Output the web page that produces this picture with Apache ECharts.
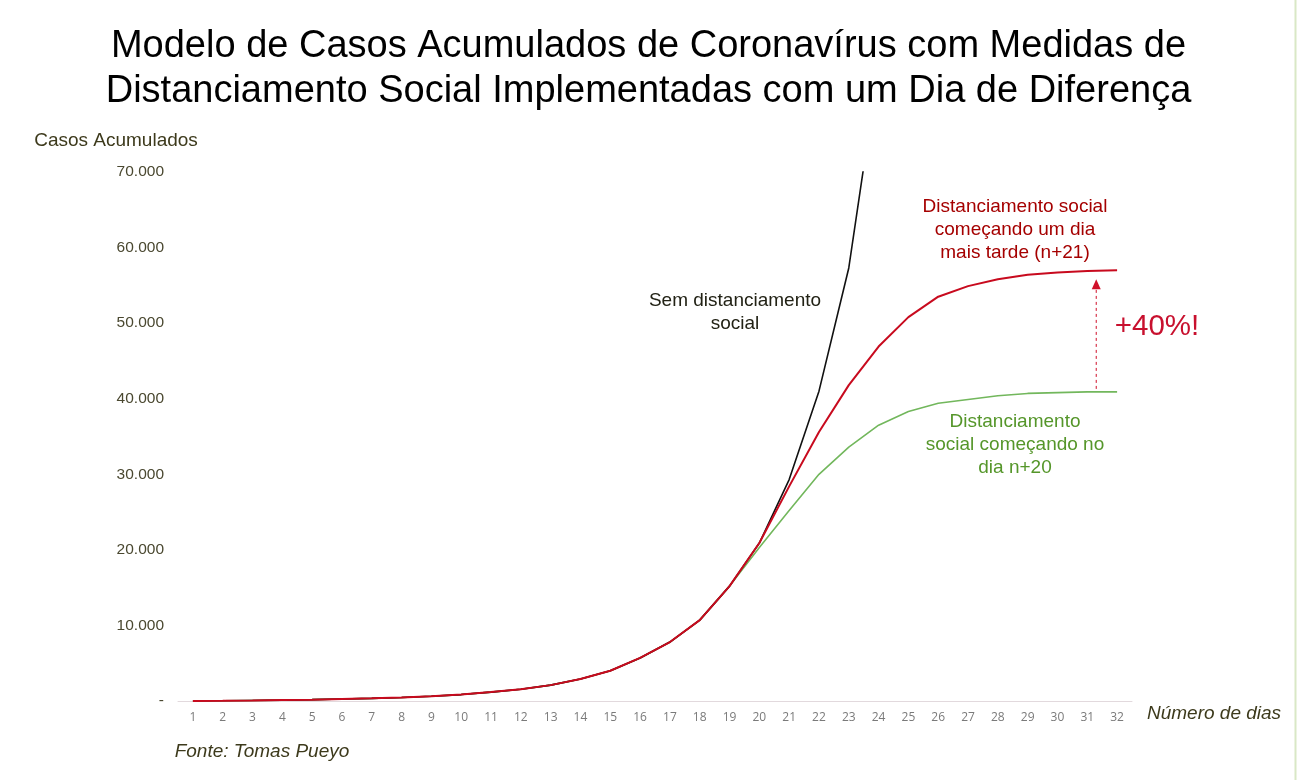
<!DOCTYPE html>
<html>
<head>
<meta charset="utf-8">
<script src="https://cdn.jsdelivr.net/npm/echarts@6/dist/echarts.min.js"></script>
<style>
  html, body { margin: 0; padding: 0; background: #fff; }
  #chart { width: 1297px; height: 780px; }
</style>
</head>
<body>
<div id="chart"></div>
<script>
// days on the x axis
const days = ['1', '2', '3', '4', '5', '6', '7', '8', '9', '10', '11', '12', '13', '14', '15', '16',
  '17', '18', '19', '20', '21', '22', '23', '24', '25', '26', '27', '28', '29', '30', '31', '32']

// distancing starting one day later (n+21)
const lateDistancing = [0, 30, 70, 120, 180, 260, 350, 470, 620, 850, 1180, 1560, 2100, 2900, 4000, 5700,
  7800, 10700, 15200, 20900, 28400, 35600, 41800, 46900, 50800, 53500, 54900, 55800, 56400, 56700, 56900, 57000]

// no distancing at all (runs off the top)
const noDistancing = [0, 30, 70, 120, 180, 260, 350, 470, 620, 850, 1180, 1560, 2100, 2900, 4000, 5700,
  7800, 10700, 15200, 20900, 29300, 41000, 57300, 84000, null, null, null, null, null, null, null, null]

// distancing starting on day n+20
const earlyDistancing = [0, 30, 70, 120, 180, 260, 350, 470, 620, 850, 1180, 1560, 2100, 2900, 4000, 5700,
  7800, 10700, 15200, 20300, 25200, 30000, 33600, 36500, 38300, 39400, 39900, 40400, 40700, 40800, 40900, 40900]

const yTicks = [0, 10000, 20000, 30000, 40000, 50000, 60000, 70000]

// dashed "+40%" arrow: between day 31 and 32, from the green plateau to the red one
const arrowDayIdx = 30
const arrowDayFrac = 0.3
const arrowFrom = 41300
const arrowTo = 55800

const chart = echarts.init(document.getElementById('chart'))

const fmtY = v => (v === 0 ? '-' : (v / 1000) + '.000')

const option = {
  animation: false,
  backgroundColor: '#fff',
  title: {
    text: 'Modelo de Casos Acumulados de Coronavírus com Medidas de\nDistanciamento Social Implementadas com um Dia de Diferença',
    left: 'center',
    top: 19,
    textStyle: {
      fontFamily: 'Liberation Sans',
      fontSize: 38,
      fontWeight: 'normal',
      color: '#000',
      lineHeight: 45
    }
  },
  grid: { left: 178, right: 165, top: 172, bottom: 79, containLabel: false },
  xAxis: {
    type: 'category',
    data: days,
    boundaryGap: true,
    name: 'Número de dias',
    nameLocation: 'end',
    nameGap: 15,
    nameTextStyle: {
      fontFamily: 'Liberation Sans',
      fontStyle: 'italic',
      fontSize: 19,
      color: '#3d3a1c',
      verticalAlign: 'top',
      padding: [3, 0, 0, 0]
    },
    axisLine: { lineStyle: { color: '#e2d9dd', width: 1 } },
    axisTick: { show: false },
    axisLabel: {
      fontFamily: 'Open Sans',
      fontSize: 12,
      color: '#7a7a7a',
      margin: 11
    }
  },
  yAxis: {
    type: 'value',
    min: 0,
    max: 70000,
    interval: 10000,
    axisLine: { show: false },
    axisTick: { show: false },
    splitLine: { show: false },
    axisLabel: {
      fontFamily: 'Liberation Sans',
      fontSize: 15.5,
      color: '#4a4830',
      margin: 14,
      formatter: v => (yTicks.includes(v) ? fmtY(v) : '')
    }
  },
  series: [
    {
      name: 'Distanciamento social começando no dia n+20',
      type: 'line',
      data: earlyDistancing,
      showSymbol: false,
      lineStyle: { color: '#72b75c', width: 1.6 },
      z: 2
    },
    {
      name: 'Sem distanciamento social',
      type: 'line',
      data: noDistancing,
      showSymbol: false,
      lineStyle: { color: '#111', width: 1.6 },
      z: 3
    },
    {
      name: 'Distanciamento social começando um dia mais tarde (n+21)',
      type: 'line',
      data: lateDistancing,
      showSymbol: false,
      lineStyle: { color: '#c80a1e', width: 2 },
      z: 4
    }
  ]
}

chart.setOption(option)

// annotation positions from the axes
const pA = chart.convertToPixel({ xAxisIndex: 0, yAxisIndex: 0 }, [days[arrowDayIdx], arrowFrom])
const pB = chart.convertToPixel({ xAxisIndex: 0, yAxisIndex: 0 }, [days[arrowDayIdx + 1], arrowTo])
const ax = pA[0] + (pB[0] - pA[0]) * arrowDayFrac
const y1 = pA[1]
const y2 = pB[1]

const txt = (x, y, text, color, size, extra) => ({
  type: 'text',
  silent: true,
  style: Object.assign({
    x: x, y: y, text: text,
    fill: color,
    font: size + 'px "Liberation Sans"',
    textAlign: 'center',
    textVerticalAlign: 'middle',
    lineHeight: 23
  }, extra || {})
})

chart.setOption({
  graphic: [
    txt(116, 141, 'Casos Acumulados', '#3d3a1c', 19),
    txt(262, 752, 'Fonte: Tomas Pueyo', '#3d3a1c', 19, { font: 'italic 19px "Liberation Sans"' }),
    txt(735, 312, 'Sem distanciamento\nsocial', '#222215', 19),
    txt(1015, 230, 'Distanciamento social\ncomeçando um dia\nmais tarde (n+21)', '#a50000', 19),
    txt(1015, 445, 'Distanciamento\nsocial começando no\ndia n+20', '#55962a', 19),
    txt(1157, 327, '+40%!', '#c8102e', 29.5),
    {
      type: 'line',
      silent: true,
      shape: { x1: ax, y1: y1, x2: ax, y2: y2 + 10 },
      style: { stroke: '#d0102a', lineWidth: 1, lineDash: [3, 3] }
    },
    {
      type: 'polygon',
      silent: true,
      shape: { points: [[ax, y2], [ax - 4.5, y2 + 10], [ax + 4.5, y2 + 10]] },
      style: { fill: '#d0102a' }
    },
    {
      type: 'line',
      silent: true,
      shape: { x1: 1295.5, y1: 0, x2: 1295.5, y2: 780 },
      style: { stroke: '#d9e8c6', lineWidth: 2 }
    }
  ]
})
</script>
</body>
</html>
